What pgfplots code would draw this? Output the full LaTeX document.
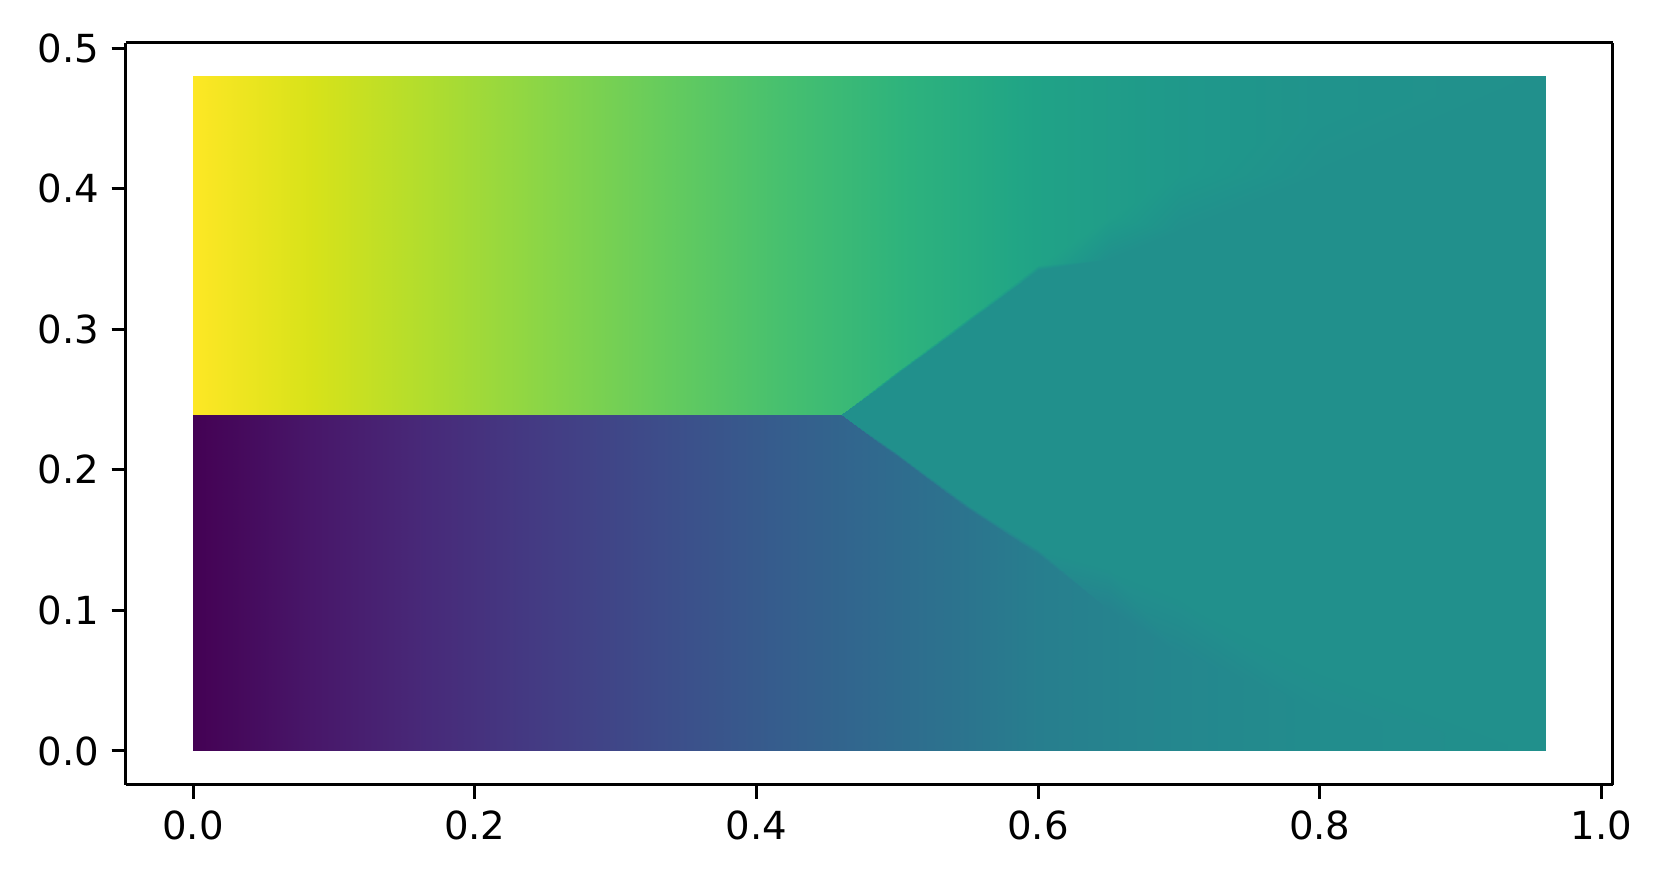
\documentclass[border=0pt]{standalone}
\usepackage{fontspec}
\setmainfont{DejaVu Sans}
\usepackage{pgfplots}
\pgfplotsset{compat=1.18}

% field sampled along columns of x; within a column y runs upward
% rows: bottom, lower edge, wedge start, wedge end, upper edge, top
\pgfplotstableread{
x     y      z  c
0.00  0.000  0  0.000
0.00  0.240  0  0.000
0.00  0.240  0  0.000
0.00  0.240  0  1.000
0.00  0.240  0  1.000
0.00  0.480  0  1.000
0.10  0.000  0  0.070
0.10  0.240  0  0.070
0.10  0.240  0  0.070
0.10  0.240  0  0.930
0.10  0.240  0  0.930
0.10  0.480  0  0.930
0.20  0.000  0  0.140
0.20  0.240  0  0.140
0.20  0.240  0  0.140
0.20  0.240  0  0.860
0.20  0.240  0  0.860
0.20  0.480  0  0.860
0.30  0.000  0  0.210
0.30  0.240  0  0.210
0.30  0.240  0  0.210
0.30  0.240  0  0.790
0.30  0.240  0  0.790
0.30  0.480  0  0.790
0.40  0.000  0  0.280
0.40  0.240  0  0.280
0.40  0.240  0  0.280
0.40  0.240  0  0.720
0.40  0.240  0  0.720
0.40  0.480  0  0.720
0.46  0.000  0  0.322
0.46  0.240  0  0.322
0.46  0.240  0  0.500
0.46  0.240  0  0.500
0.46  0.240  0  0.678
0.46  0.480  0  0.678
0.50  0.000  0  0.350
0.50  0.210  0  0.350
0.50  0.212  0  0.500
0.50  0.268  0  0.500
0.50  0.270  0  0.650
0.50  0.480  0  0.650
0.55  0.000  0  0.385
0.55  0.172  0  0.385
0.55  0.175  0  0.500
0.55  0.305  0  0.500
0.55  0.308  0  0.615
0.55  0.480  0  0.615
0.60  0.000  0  0.425
0.60  0.140  0  0.425
0.60  0.144  0  0.500
0.60  0.342  0  0.500
0.60  0.346  0  0.578
0.60  0.480  0  0.578
0.65  0.000  0  0.445
0.65  0.100  0  0.445
0.65  0.130  0  0.500
0.65  0.350  0  0.500
0.65  0.380  0  0.555
0.65  0.480  0  0.555
0.70  0.000  0  0.462
0.70  0.070  0  0.462
0.70  0.110  0  0.500
0.70  0.370  0  0.500
0.70  0.410  0  0.535
0.70  0.480  0  0.535
0.80  0.000  0  0.485
0.80  0.030  0  0.485
0.80  0.060  0  0.500
0.80  0.410  0  0.500
0.80  0.450  0  0.512
0.80  0.480  0  0.512
0.96  0.000  0  0.500
0.96  0.000  0  0.500
0.96  0.000  0  0.500
0.96  0.480  0  0.500
0.96  0.480  0  0.500
0.96  0.480  0  0.500
}\field

\begin{document}
\begin{tikzpicture}
\begin{axis}[
    view={0}{90},
    width=14.87cm, height=7.42cm, scale only axis,
    xmin=-0.048, xmax=1.008,
    ymin=-0.024, ymax=0.504,
    zmin=-1, zmax=1,
    xtick={0,0.2,0.4,0.6,0.8,1.0},
    ytick={0,0.1,0.2,0.3,0.4,0.5},
    ztick=\empty,
    xticklabel style={/pgf/number format/.cd, fixed, fixed zerofill, precision=1},
    yticklabel style={/pgf/number format/.cd, fixed, fixed zerofill, precision=1},
    /pgf/number format/assume math mode=true,
    ticklabel style={font=\fontsize{11}{13}\selectfont},
    tick align=outside,
    major tick length=0.14cm,
    xtick pos=left, ytick pos=left,
    tick style={black, line width=0.85pt},
    axis line style={line width=0.85pt},
    colormap name=viridis,
    point meta min=0, point meta max=1,
]
\addplot3[surf, shader=interp, mesh/ordering=y varies, mesh/rows=6, mesh/cols=13,
    point meta=explicit] table[x=x, y=y, z=z, meta=c] {\field};
\coordinate (sw) at (rel axis cs:0,0,0.5);
\coordinate (ne) at (rel axis cs:1,1,0.5);
\end{axis}
\pgfresetboundingbox
\path[use as bounding box] ([xshift=-1.255cm,yshift=-1.0cm]sw) rectangle ([xshift=0.553cm,yshift=0.426cm]ne);
\end{tikzpicture}
\end{document}
